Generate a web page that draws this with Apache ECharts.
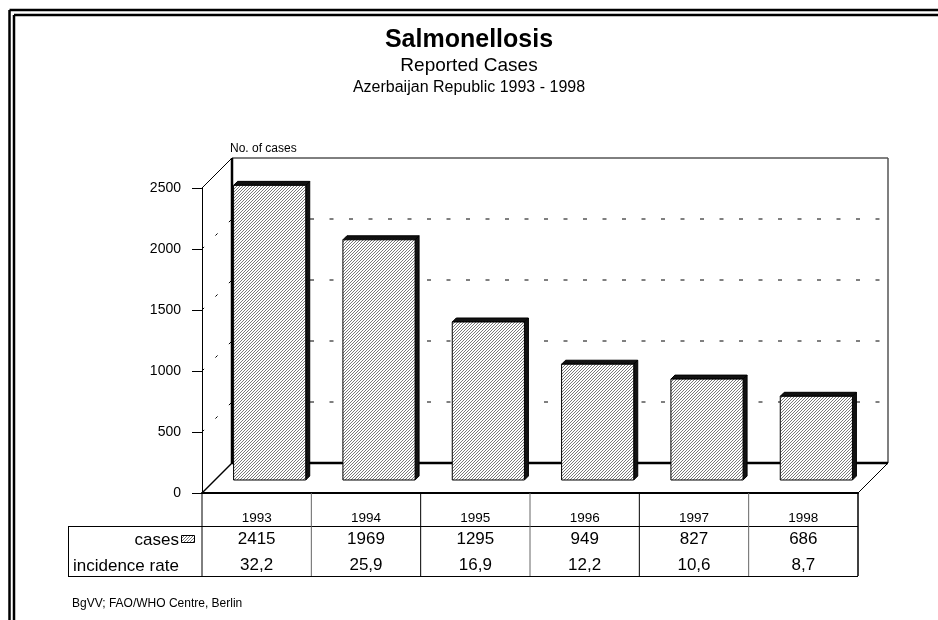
<!DOCTYPE html>
<html>
<head>
<meta charset="utf-8">
<script src="https://cdn.jsdelivr.net/npm/echarts@6/dist/echarts.min.js"></script>
<style>
  html, body { margin: 0; padding: 0; background: #fff; }
  #chart { width: 938px; height: 620px; }
</style>
</head>
<body>
<div id="chart"></div>
<script>
/* salmonellosis, reported cases, pseudo-3D bars + data table */
const years = ['1993', '1994', '1995', '1996', '1997', '1998'];
const cases = [2415, 1969, 1295, 949, 827, 686];
const incidence = [32.2, 25.9, 16.9, 12.2, 10.6, 8.7];
const gridValues = [500, 1000, 1500, 2000];
const yMax = 2500;

const FONT = '"Liberation Sans", Arial, sans-serif';
const DEPTH = 30;      // depth of the box
const BAR_SHIFT = 13;  // how far bars sit inside the box
const BAR_THICK = 4;   // visible bar depth

function makeHatch() {
  const c = document.createElement('canvas');
  c.width = 3; c.height = 3;
  const g = c.getContext('2d');
  g.fillStyle = '#fff'; g.fillRect(0, 0, 3, 3);
  g.fillStyle = '#7a7a7a';
  g.fillRect(2, 0, 1, 1); g.fillRect(1, 1, 1, 1); g.fillRect(0, 2, 1, 1);
  return c;
}
const hatchFill = { image: makeHatch(), repeat: 'repeat' };

const fmtComma = (v) => v.toFixed(1).replace('.', ',');

function line(x1, y1, x2, y2, style) {
  return { type: 'line', shape: { x1, y1, x2, y2 }, style: Object.assign({ stroke: '#000', lineWidth: 1 }, style || {}) };
}

// back wall dashed gridlines and left wall diagonals
function renderWall(params, api) {
  const cs = params.coordSys;
  const x0 = cs.x, x1 = cs.x + cs.width;
  const y = api.coord([0, api.value(0)])[1];
  return {
    type: 'group',
    children: [
      line(x0 + DEPTH, y - DEPTH, x1 + DEPTH - 6, y - DEPTH, { lineDash: [4, 15.5] }),
      line(x0, y, x0 + DEPTH, y - DEPTH, { lineDash: [3, 16] }),
    ],
  };
}

// box edges
function renderBox(params, api) {
  const cs = params.coordSys;
  const x0 = cs.x, x1 = cs.x + cs.width;
  const top = api.coord([0, yMax])[1];
  const base = cs.y + cs.height;
  const D = DEPTH;
  return {
    type: 'group',
    children: [
      line(x0, top, x0 + D, top - D),
      line(x0 + D, top - D, x1 + D, top - D),
      line(x1 + D, top - D, x1 + D, base - D, { stroke: '#555', lineWidth: 1.5 }),
      line(x0 + D, base - D, x1 + D, base - D, { lineWidth: 2.5 }),
      line(x0 + D, top - D, x0 + D, base - D, { lineWidth: 2.5 }),
      line(x0, base, x0 + D, base - D, { lineWidth: 1.5 }),
      line(x1, base, x1 + D, base - D),
    ],
  };
}

function renderBar(params, api) {
  const i = api.value(0);
  const base = api.coord([i, 0]);
  const top = api.coord([i, api.value(1)]);
  const w = api.size([1, 0])[0] * 0.66;
  const s = BAR_SHIFT, t = BAR_THICK;
  const xl = base[0] - w / 2 + s, xr = xl + w;
  const yt = top[1] - s, yb = base[1] - s;
  return {
    type: 'group',
    children: [
      { type: 'polygon', shape: { points: [[xl, yt], [xl + t, yt - t], [xr + t, yt - t], [xr, yt]] },
        style: { fill: '#111', stroke: '#000', lineWidth: 1 } },
      { type: 'polygon', shape: { points: [[xr, yt], [xr + t, yt - t], [xr + t, yb - t], [xr, yb]] },
        style: { fill: '#111', stroke: '#000', lineWidth: 1 } },
      { type: 'rect', shape: { x: xl, y: yt, width: w, height: yb - yt },
        style: { fill: hatchFill, stroke: '#000', lineWidth: 1 } },
    ],
  };
}

function renderTable(params, api) {
  const i = api.value(0);
  const p = api.coord([i, 0]);
  const half = api.size([1, 0])[0] / 2;
  const cs = params.coordSys;
  const yb = cs.y + cs.height;
  const txt = (text, y) => ({
    type: 'text',
    style: { text, x: p[0], y, font: '17px ' + FONT, fill: '#000', textAlign: 'center', textVerticalAlign: 'middle' },
  });
  const last = i === years.length - 1;
  return {
    type: 'group',
    children: [
      txt(String(api.value(1)), yb + 46),
      txt(fmtComma(api.value(2)), yb + 72),
      line(p[0] + half, yb, p[0] + half, yb + 83, { stroke: (last || i % 2 === 1) ? '#000' : '#666', lineWidth: last ? 1.5 : 1 }),
    ],
  };
}

const chart = echarts.init(document.getElementById('chart'), null, { renderer: 'canvas' });

chart.setOption({
  backgroundColor: '#fff',
  animation: false,
  textStyle: { fontFamily: FONT },
  title: [
    { text: 'Salmonellosis', left: 'center', top: 23, textStyle: { fontSize: 25, fontWeight: 'bold', color: '#000', fontFamily: FONT } },
    { text: 'Reported Cases', left: 'center', top: 51, textStyle: { fontSize: 19, fontWeight: 'normal', color: '#000', fontFamily: FONT } },
    { text: 'Azerbaijan Republic 1993 - 1998', left: 'center', top: 75, textStyle: { fontSize: 16, fontWeight: 'normal', color: '#000', fontFamily: FONT } },
  ],
  grid: { left: 202, right: 80, top: 188, bottom: 127, outerBoundsMode: 'none' },
  xAxis: {
    type: 'category', data: years, boundaryGap: true,
    axisLine: { lineStyle: { color: '#000', width: 2 } },
    axisTick: { alignWithLabel: true, length: 10, lineStyle: { color: '#000' } },
    axisLabel: { color: '#000', fontSize: 13.5, margin: 18, fontFamily: FONT },
    splitLine: { show: false },
  },
  yAxis: {
    type: 'value', min: 0, max: yMax, interval: 500,
    axisLine: { show: true, lineStyle: { color: '#000', width: 1 } },
    axisTick: { show: true, length: 10, lineStyle: { color: '#000' } },
    axisLabel: { color: '#000', fontSize: 14, margin: 21, fontFamily: FONT, formatter: (v) => String(v) },
    splitLine: { show: false },
  },
  graphic: [
    // double frame
    { type: 'line', shape: { x1: 9.5, y1: 10, x2: 938, y2: 10 }, style: { stroke: '#000', lineWidth: 2.5 } },
    { type: 'line', shape: { x1: 9.5, y1: 10, x2: 9.5, y2: 620 }, style: { stroke: '#000', lineWidth: 2.5 } },
    { type: 'line', shape: { x1: 14, y1: 15, x2: 938, y2: 15 }, style: { stroke: '#000', lineWidth: 2.5 } },
    { type: 'line', shape: { x1: 14, y1: 15, x2: 14, y2: 620 }, style: { stroke: '#000', lineWidth: 2.5 } },
    // table box
    { type: 'line', shape: { x1: 68, y1: 526.5, x2: 858, y2: 526.5 }, style: { stroke: '#000', lineWidth: 1 } },
    { type: 'line', shape: { x1: 68, y1: 576.5, x2: 858, y2: 576.5 }, style: { stroke: '#000', lineWidth: 1 } },
    { type: 'line', shape: { x1: 68.5, y1: 526, x2: 68.5, y2: 577 }, style: { stroke: '#000', lineWidth: 1 } },
    { type: 'line', shape: { x1: 202, y1: 493, x2: 202, y2: 577 }, style: { stroke: '#000', lineWidth: 1 } },
    { type: 'text', style: { text: 'cases', x: 179, y: 540, textAlign: 'right', textVerticalAlign: 'middle', font: '17px ' + FONT, fill: '#000' } },
    { type: 'rect', shape: { x: 181.5, y: 535.5, width: 13, height: 7 }, style: { fill: hatchFill, stroke: '#000', lineWidth: 1 } },
    { type: 'text', style: { text: 'incidence rate', x: 73, y: 566, textAlign: 'left', textVerticalAlign: 'middle', font: '17px ' + FONT, fill: '#000' } },
    { type: 'text', style: { text: 'No. of cases', x: 230, y: 149, textAlign: 'left', textVerticalAlign: 'middle', font: '12px ' + FONT, fill: '#000' } },
    { type: 'text', style: { text: 'BgVV; FAO/WHO Centre, Berlin', x: 72, y: 604, textAlign: 'left', textVerticalAlign: 'middle', font: '12px ' + FONT, fill: '#000' } },
  ],
  series: [
    { type: 'custom', name: 'wall', renderItem: renderWall, data: gridValues.map((v) => [v]), encode: { y: 0 }, silent: true, z: 1 },
    { type: 'custom', name: 'box', renderItem: renderBox, data: [[0]], silent: true, z: 2 },
    { type: 'custom', name: 'cases', renderItem: renderBar, data: cases.map((v, i) => [i, v]), encode: { x: 0, y: 1 }, z: 3 },
    { type: 'custom', name: 'table', renderItem: renderTable, data: cases.map((v, i) => [i, v, incidence[i]]), encode: { x: 0 }, silent: true, z: 4 },
  ],
});
</script>
</body>
</html>
